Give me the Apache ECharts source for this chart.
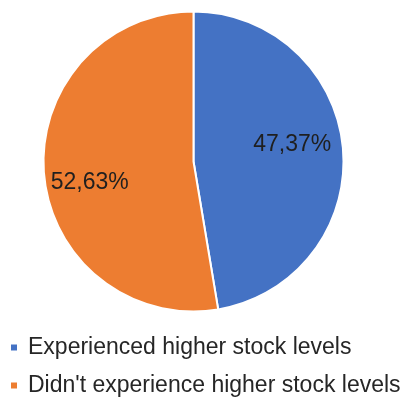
<!DOCTYPE html>
<html>
<head>
<meta charset="utf-8">
<script src="https://cdn.jsdelivr.net/npm/echarts@6/dist/echarts.min.js"></script>
<style>
  html, body { margin: 0; padding: 0; background: #fff; }
  #chart { width: 411px; height: 401px; }
</style>
</head>
<body>
<div id="chart"></div>
<script>
// Share of respondents by stock-level experience
const categories = ['Experienced higher stock levels', "Didn't experience higher stock levels"];
const shares = [47.37, 52.63];
const colors = ['#4472C4', '#ED7D31'];
// Nudges for the in-slice percentage labels
const labelOffsets = [[21, -10], [-26, 15]];
// Vertical position of each legend row
const legendTops = [336, 374];

const chart = echarts.init(document.getElementById('chart'), null, { renderer: 'canvas' });

const fontFamily = '"Liberation Sans", Arial, sans-serif';

// One legend block per row keeps the entries stacked under the pie
const legends = categories.map((name, i) => ({
  orient: 'vertical',
  left: 9,
  top: legendTops[i],
  padding: 0,
  icon: 'rect',
  itemWidth: 8,
  itemHeight: 8,
  data: [name],
  selectedMode: false,
  textStyle: {
    fontFamily: fontFamily,
    fontSize: 23,
    color: '#262626',
    padding: [0, 0, 0, 5]
  }
}));

chart.setOption({
  animation: false,
  color: colors,
  legend: legends,
  series: [{
    type: 'pie',
    center: [193.5, 161.5],
    radius: 150,
    startAngle: 90,
    clockwise: true,
    avoidLabelOverlap: false,
    itemStyle: { borderColor: '#ffffff', borderWidth: 2 },
    label: {
      show: true,
      position: 'inside',
      fontFamily: fontFamily,
      fontSize: 23,
      color: '#1f1f1f',
      formatter: (p) => p.value.toFixed(2).replace('.', ',') + '%'
    },
    labelLine: { show: false },
    emphasis: { disabled: true },
    data: categories.map((name, i) => ({
      name: name,
      value: shares[i],
      label: { offset: labelOffsets[i] }
    }))
  }]
});
</script>
</body>
</html>
